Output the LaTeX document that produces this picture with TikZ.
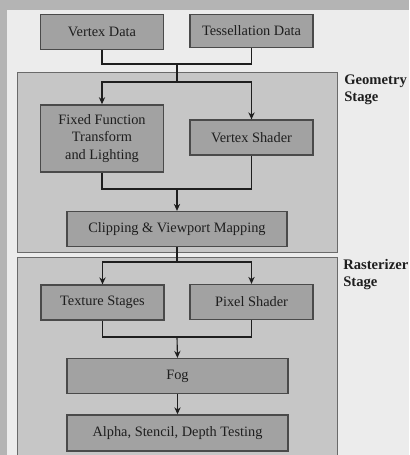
\documentclass[tikz,border=0pt]{standalone}
\usepackage{fontspec}
\setmainfont{Liberation Serif}
\usetikzlibrary{positioning,arrows.meta,calc}
\definecolor{ppScan}{HTML}{B4B4B4}
\definecolor{ppPage}{HTML}{ECECEC}
\definecolor{ppStage}{HTML}{C6C6C6}
\definecolor{ppStageLine}{HTML}{6A6A6A}
\definecolor{ppUnit}{HTML}{A2A2A2}
\definecolor{ppUnitLine}{HTML}{4A4A4A}
\definecolor{ppInk}{HTML}{1E1E1E}
\tikzset{
  unit/.style={
    draw=ppUnitLine, line width=1pt, fill=ppUnit,
    minimum width=#1, minimum height=0.87cm, inner sep=2pt,
    align=center, text=ppInk, font=\fontsize{10.2}{12.5}\selectfont},
  unit/.default=3.08cm,
  stagebox/.style={draw=ppStageLine, line width=0.7pt, fill=ppStage},
  stagelabel/.style={anchor=north west, inner sep=0pt, align=left,
    text=ppInk, font=\fontsize{10.4}{12}\selectfont\bfseries},
  flow/.style={draw=ppInk, line width=0.8pt},
  link/.style={draw=ppInk, line width=0.8pt, -{Stealth[length=5pt,width=4.5pt]}},
}

\begin{document}
\begin{tikzpicture}[x=0.025cm, y=-0.025cm]

\useasboundingbox (0,0) rectangle (409,455);
\fill[ppScan] (0,0) rectangle (409,455);
\fill[ppPage] (7,10) rectangle (409,455);

% the two stages
\path[stagebox] (17,72) rectangle (337,252);
\path[stagebox] (17,257) rectangle (337,470);
\node[stagelabel] (geolbl) at (344,75) {Geometry\\Stage};
\node[stagelabel] (raslbl) at (343,259) {Rasterizer\\Stage};

% inputs
\node[unit] (vtx) at (102,32) {Vertex Data};
\node[unit, minimum height=0.83cm] (tess) at (251.5,31) {Tessellation Data};

% geometry stage
\node[unit, minimum height=1.68cm] (ffunc) at (102,138.5) {Fixed Function\\Transform\\and Lighting};
\node[unit] (vshader) at (251.5,137.5) {Vertex Shader};
\node[unit=5.5cm] (clip) at (177,229) {Clipping \& Viewport Mapping};

% rasterizer stage
\node[unit] (tex) at (102.5,302.5) {Texture Stages};
\node[unit] (pixel) at (251.5,302) {Pixel Shader};
\node[unit=5.52cm] (fog) at (177.5,376) {Fog};
\node[unit=5.52cm, minimum height=0.9cm] (alpha) at (177.5,433) {Alpha, Stencil, Depth Testing};

% connectors
\coordinate (join1) at (177,64);
\coordinate (split1) at (177,82);
\coordinate (join2) at (177,189);
\coordinate (split2) at (177,262);
\coordinate (join3) at (177,337);

\draw[flow] (vtx.south) |- (join1) -| (tess.south);
\draw[flow] (join1) -- (split1);
\draw[link] (split1) -| (ffunc.north);
\draw[link] (split1) -| (vshader.north);

\draw[flow] (ffunc.south) |- (join2) -| (vshader.south);
\draw[link] (join2) -- (clip.north);

\draw[flow] (clip.south) -- (split2);
\draw[link] (split2) -| (tex.north);
\draw[link] (split2) -| (pixel.north);

\draw[flow] (tex.south) |- (join3) -| (pixel.south);
\draw[link] (join3) -- (fog.north);
\draw[link] (fog.south) -- (alpha.north);

\end{tikzpicture}
\end{document}
